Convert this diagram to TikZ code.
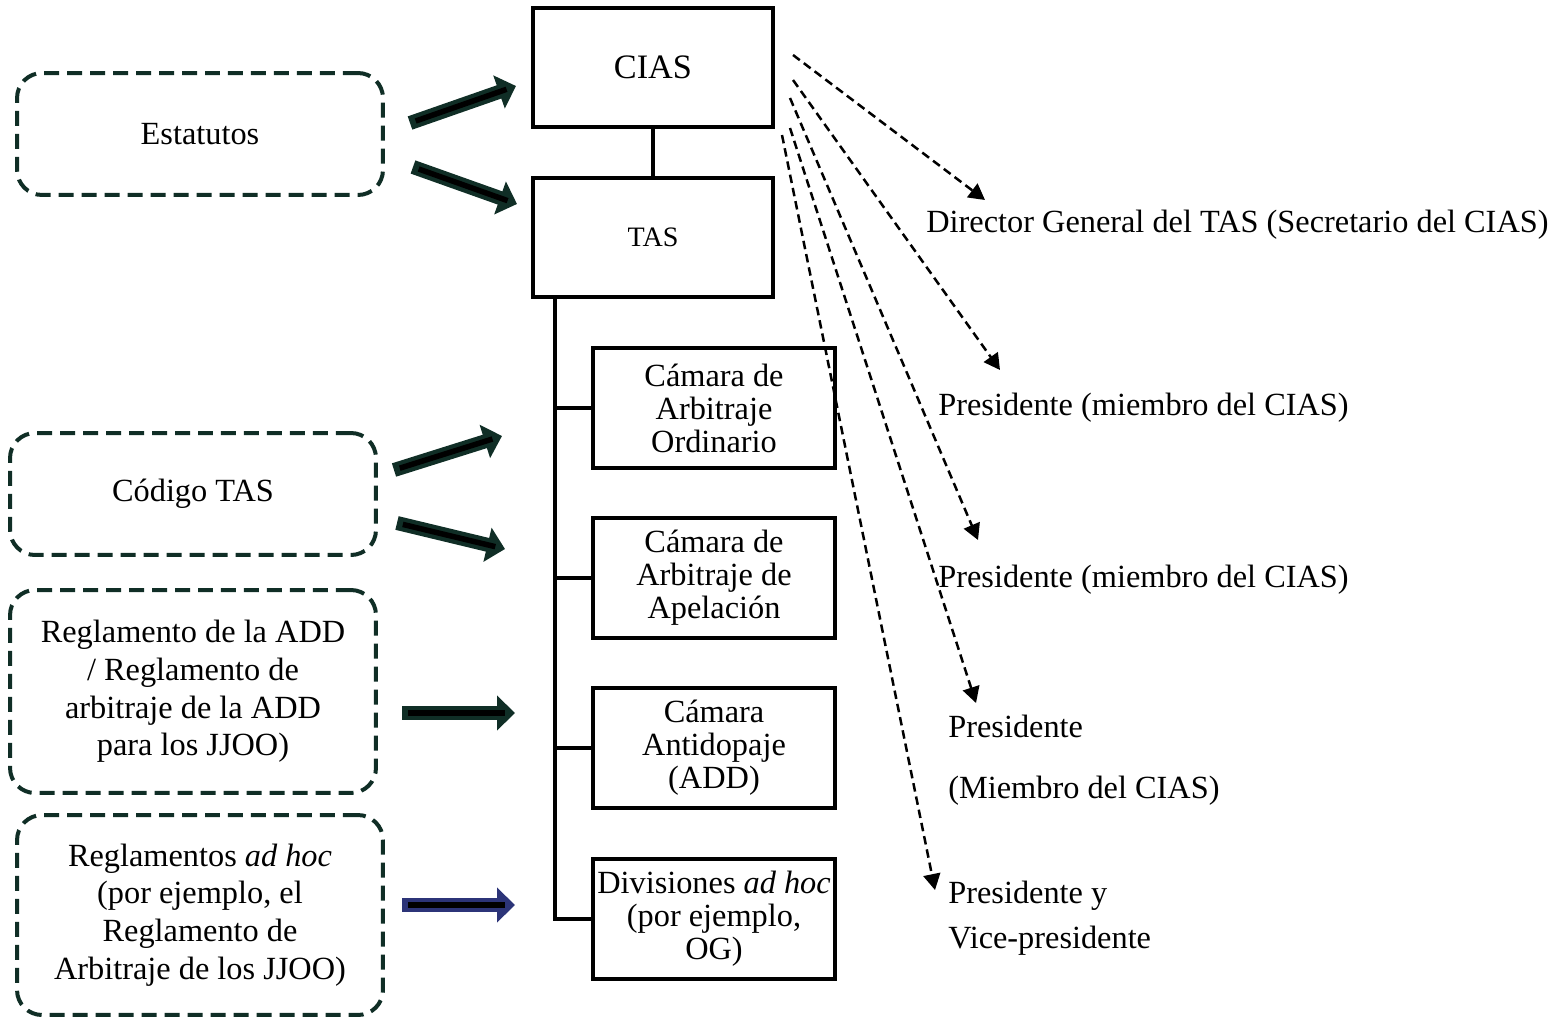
\documentclass[tikz,border=0pt]{standalone}
\usepackage{fontspec}
\setmainfont{Liberation Serif}
\usetikzlibrary{arrows.meta}
\usetikzlibrary{calc}
\definecolor{rahmen}{RGB}{16,46,38}
\definecolor{pfeilblau}{RGB}{44,52,120}

\tikzset{
	organ/.style={draw, line width=0.09cm, minimum width=4.8cm, minimum height=2.38cm, inner sep=0pt},
	kammer/.style={organ, minimum width=4.84cm, minimum height=2.4cm, align=center, font=\fontsize{18.4}{18.8}\selectfont},
	regel/.style={draw=rahmen, line width=0.08cm, dash pattern=on 0.3cm off 0.16cm, rounded corners=0.5cm, minimum width=7.32cm, align=center, font=\fontsize{18.4}{21.5}\selectfont},
	amt/.style={anchor=west, align=left, inner sep=0pt, font=\fontsize{18.4}{21.5}\selectfont},
	bezug/.style={line width=0.05cm, dash pattern=on 0.17cm off 0.1cm, -{Triangle[length=0.32cm,width=0.34cm]}},
	block/.style={line width=0.28cm, draw=#1, -{Triangle[length=0.36cm,width=0.68cm]}},
	seele/.style={line width=0.11cm, black, shorten >=0.2cm, shorten <=0.12cm},
}

\begin{document}
\begin{tikzpicture}[x=0.02cm, y=-0.02cm]

	\useasboundingbox (0,0) rectangle (1567,1017);

	% Organe in der Mitte
	\node[organ, font=\fontsize{19.5}{22}\selectfont] (cias) at (653,67.5) {CIAS};
	\node[organ, font=\fontsize{16}{19}\selectfont] (tas) at (653,237.5) {TAS};
	\draw[line width=0.09cm] (cias) -- (tas);

	\node[kammer] (k1) at (714,408) {Cámara de\\Arbitraje\\Ordinario};
	\node[kammer] (k2) at (714,578) {Cámara de\\Arbitraje de\\Apelación};
	\node[kammer] (k3) at (714,748) {Cámara\\Antidopaje\\(ADD)};
	\node[kammer] (k4) at (714,919) {Divisiones \textit{ad hoc}\\(por ejemplo,\\OG)};

	\coordinate (stamm) at ($(tas.south west)+(24,0)$);
	\draw[line width=0.08cm] (stamm) |- (k4.west);
	\foreach \k in {k1,k2,k3}
		\draw[line width=0.08cm] (stamm |- \k.west) -- (\k.west);

	% Regelwerke links
	\node[regel, minimum height=2.44cm] (statuten) at (200,134) {Estatutos};
	\node[regel, minimum height=2.44cm] (codigo) at (193,494) {Código TAS};
	\node[regel, minimum height=4.06cm] (regadd) at (193,691.5) {Reglamento de la ADD\\/ Reglamento de\\arbitraje de la ADD\\para los JJOO)};
	\node[regel, minimum height=4cm] (reghoc) at (200,915) {Reglamentos \textit{ad hoc}\\(por ejemplo, el\\Reglamento de\\Arbitraje de los JJOO)};

	\coordinate (a1s) at (410,123); \coordinate (a1e) at (516,86);
	\coordinate (a2s) at (413,167); \coordinate (a2e) at (517,204);
	\coordinate (a3s) at (394,470); \coordinate (a3e) at (502,436);
	\coordinate (a4s) at (397,523); \coordinate (a4e) at (505,549);
	\coordinate (a5s) at (402,713); \coordinate (a5e) at (515,713);
	\coordinate (a6s) at (402,905); \coordinate (a6e) at (515,905);

	\foreach \a in {a1,a2,a3,a4,a5} {
		\draw[block=rahmen] (\a s) -- (\a e);
		\draw[seele] (\a s) -- (\a e);
	}
	\draw[block=pfeilblau] (a6s) -- (a6e);
	\draw[seele] (a6s) -- (a6e);

	% Aemter rechts
	\node[amt] (dg) at (926,225) {Director General del TAS (Secretario del CIAS)};
	\node[amt] (p1) at (938,408) {Presidente (miembro del CIAS)};
	\node[amt] (p2) at (938,580) {Presidente (miembro del CIAS)};
	\node[amt, font=\fontsize{18.4}{35}\selectfont] (p3) at (948,760) {Presidente\\(Miembro del CIAS)};
	\node[amt, font=\fontsize{18.4}{25.5}\selectfont] (p4) at (948,918) {Presidente y\\Vice-presidente};

	\coordinate (l1s) at (793,55);  \coordinate (l1e) at (985,200);
	\coordinate (l2s) at (793,80);  \coordinate (l2e) at (1000,370);
	\coordinate (l3s) at (790,98);  \coordinate (l3e) at (978,540);
	\coordinate (l4s) at (790,128); \coordinate (l4e) at (976,703);
	\coordinate (l5s) at (782,135); \coordinate (l5e) at (935,890);

	\foreach \l in {l1,l2,l3,l4,l5}
		\draw[bezug] (\l s) -- (\l e);

\end{tikzpicture}
\end{document}
